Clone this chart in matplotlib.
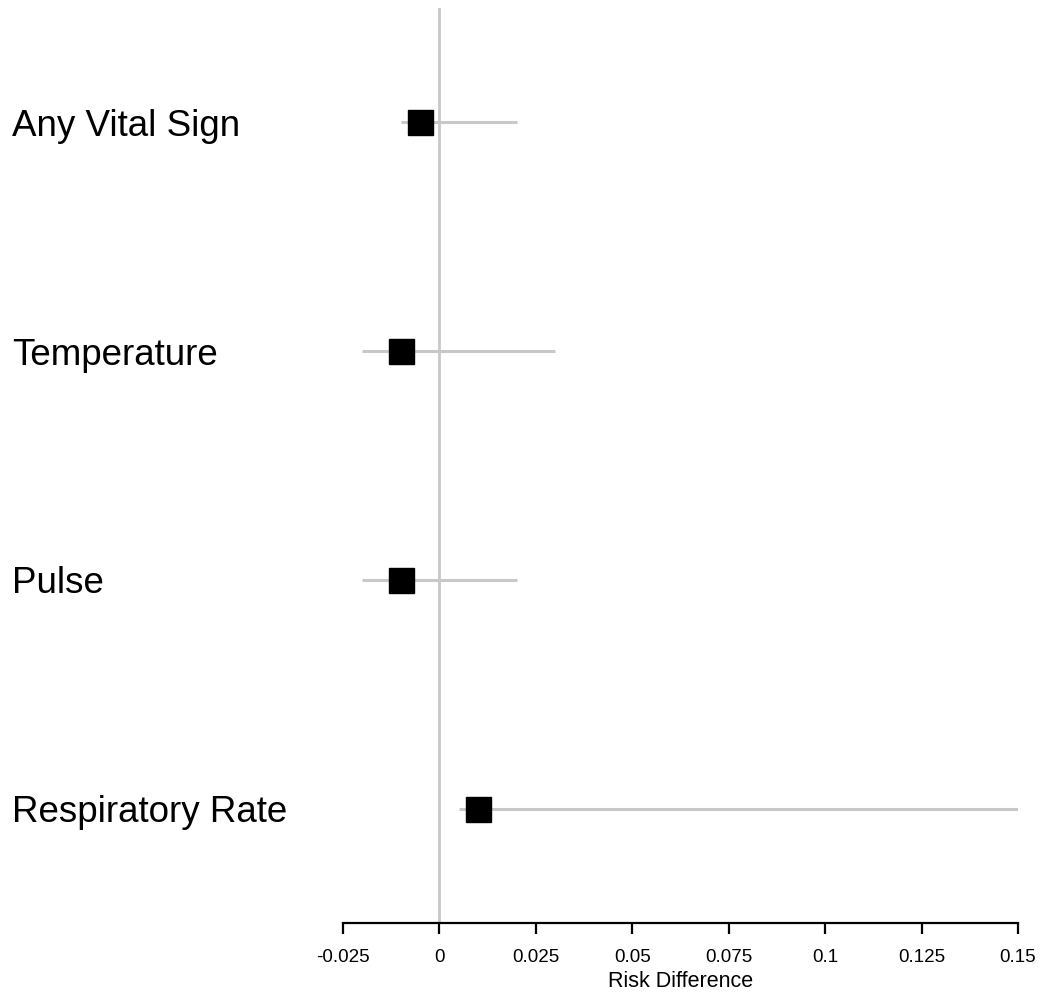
import matplotlib
matplotlib.use("Agg")
import matplotlib.pyplot as plt

plt.rcParams['font.family'] = ['Liberation Sans', 'DejaVu Sans']

# Outcomes with risk difference estimates and confidence intervals
outcomes = ["Any Vital Sign", "Temperature", "Pulse", "Respiratory Rate"]
estimate = [-0.005, -0.01, -0.01, 0.01]
ci_lower = [-0.01, -0.02, -0.02, 0.005]
ci_upper = [0.02, 0.03, 0.02, 0.15]

tick_values = [-0.025, 0, 0.025, 0.05, 0.075, 0.1, 0.125, 0.15]
tick_labels = ["-0.025", "0", "0.025", "0.05", "0.075", "0.1", "0.125", "0.15"]

W, H = 1044, 994
fig = plt.figure(figsize=(W / 100, H / 100), dpi=100)
ax = fig.add_axes([343 / W, 1 - 923 / H, (1018 - 343) / W, (923 - 8) / H])

n = len(outcomes)
ypos = list(range(n, 0, -1))

grey = "#c8c8c8"
ax.axvline(0, color=grey, lw=2, zorder=1)
for y, lo, hi, est in zip(ypos, ci_lower, ci_upper, estimate):
    ax.plot([lo, hi], [y, y], color=grey, lw=2.2, solid_capstyle="butt", zorder=2)
    ax.plot(est, y, marker="s", color="black", markersize=18, zorder=3)

ax.set_xlim(-0.025, 0.15)
ax.set_ylim(0.5, n + 0.5)

for sp in ["top", "right", "left"]:
    ax.spines[sp].set_visible(False)
ax.spines["bottom"].set_linewidth(1.6)
ax.set_yticks([])
ax.set_xticks(tick_values)
ax.set_xticklabels(tick_labels, fontsize=13.5)
ax.tick_params(axis="x", direction="out", length=8, width=1.6, pad=10.5)
ax.set_xlabel("Risk Difference", fontsize=15.5, labelpad=4)

for y, name in zip(ypos, outcomes):
    yfig = ax.transData.transform((0, y))[1]
    fig.text(12 / W, yfig / H, name, fontsize=26.5, ha="left", va="center_baseline")

fig.savefig("out.png", dpi=100, facecolor="white")
